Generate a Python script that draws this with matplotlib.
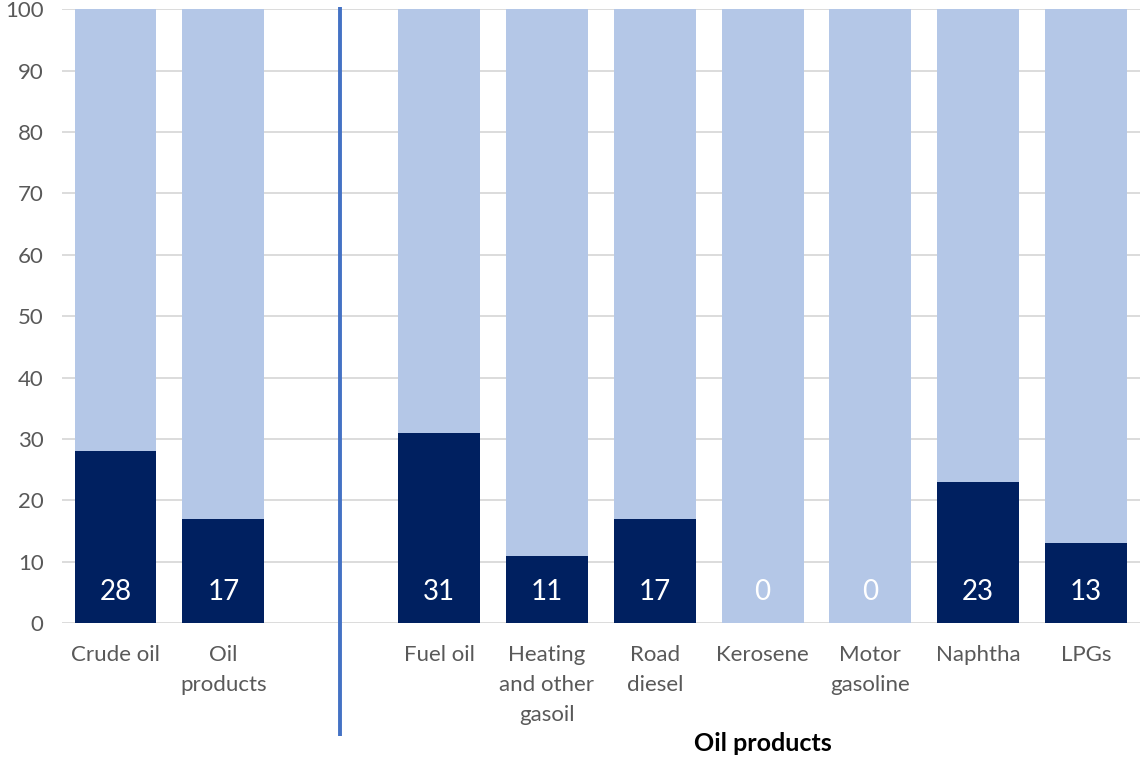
import matplotlib
matplotlib.use("Agg")
import matplotlib.pyplot as plt

categories = ["Crude oil", "Oil\nproducts", "", "Fuel oil", "Heating\nand other\ngasoil",
              "Road\ndiesel", "Kerosene", "Motor\ngasoline", "Naphtha", "LPGs"]
dark_values = [28, 17, None, 31, 11, 17, 0, 0, 23, 13]
total = 100
group_label = "Oil products"
yticks = list(range(0, 101, 10))

DARK = "#002060"
LIGHT = "#B4C7E7"
GRID = "#D9D9D9"
TXT = "#595959"

plt.rcParams['font.family'] = ['Lato', 'DejaVu Sans']

fig = plt.figure(figsize=(11.4, 7.59), dpi=100)
ax = fig.add_axes([0.054, 0.179, 0.946, 0.809])

xs = [i for i, v in enumerate(dark_values) if v is not None]
dv = [dark_values[i] for i in xs]
lv = [total - v for v in dv]
w = 0.76
ax.bar(xs, dv, width=w, color=DARK, zorder=2)
ax.bar(xs, lv, bottom=dv, width=w, color=LIGHT, zorder=2)
for x, v in zip(xs, dv):
    ax.text(x, 5, f"{v}", ha="center", va="center", color="white", fontsize=20, zorder=3)

ax.set_xlim(-0.5, 9.5)
ax.set_ylim(0, 100)
ax.set_yticks(yticks)
ax.set_xticks(range(len(categories)))
ax.set_xticklabels(categories, linespacing=1.6)
ax.tick_params(axis='x', length=0, pad=16, labelsize=16, labelcolor=TXT)
ax.tick_params(axis='y', length=0, pad=13, labelsize=16, labelcolor=TXT)
ax.grid(axis='y', color=GRID, linewidth=1.3, zorder=0)
ax.set_axisbelow(True)
for s in ax.spines.values():
    s.set_visible(False)

# divider line
xline = 2.08
ax.plot([xline, xline], [100.3, -18.3], color="#4472C4", linewidth=2.8, clip_on=False, zorder=4,
        solid_capstyle='butt')

ax.text(6, -19.6, group_label, ha="center", va="center", fontsize=18, fontweight="bold",
        color="black", transform=ax.transData, clip_on=False)

fig.savefig("out.png", dpi=100)
